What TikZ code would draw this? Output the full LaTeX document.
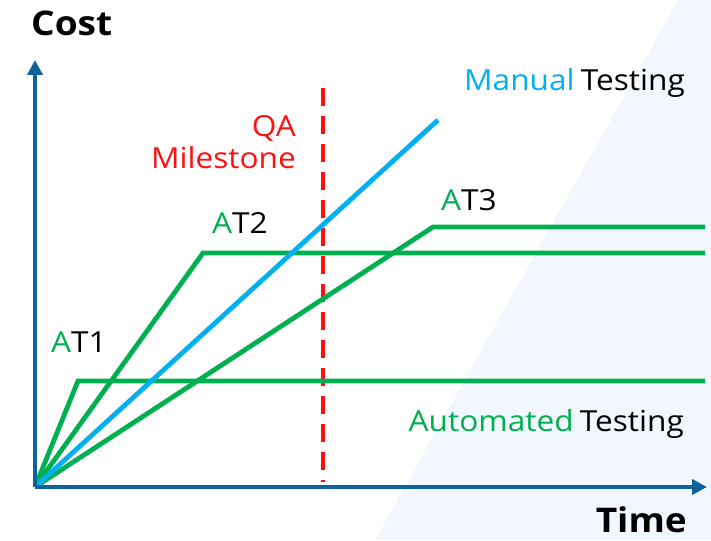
\documentclass[tikz,border=0pt]{standalone}
\usepackage{fontspec}
\setmainfont{Open Sans}[FakeStretch=1.09]
\usetikzlibrary{arrows.meta}
\definecolor{axisblue}{HTML}{0B6399}
\definecolor{mangreen}{HTML}{00B050}
\definecolor{manblue}{HTML}{00B0F0}
\definecolor{qared}{HTML}{FF1010}
\definecolor{bgblue}{HTML}{F2F7FD}
\begin{document}
\begin{tikzpicture}[x=1pt,y=-1pt,
  axis/.style={draw=axisblue,line width=4.5pt,-{Triangle[length=15pt,width=15pt]}},
  curve/.style={draw=mangreen,line width=4.8pt,line join=miter},
  lbl/.style={inner sep=0pt,font=\fontsize{29}{31}\selectfont},
  big/.style={inner sep=0pt,font=\fontsize{34}{36}\selectfont\bfseries}]
\useasboundingbox (0,0) rectangle (711,540);
\fill[bgblue] (678,0) -- (711,0) -- (711,540) -- (375,540) -- cycle;
\coordinate (O) at (35,487);
\coordinate (ytip) at (35,60);
\coordinate (xtip) at (707,487);
\coordinate (qtop) at (323,88);
\coordinate (qbot) at (323,482);
\coordinate (m1) at (438,120);
\coordinate (a1) at (78,381);
\coordinate (a1e) at (705,381);
\coordinate (a2) at (203,253);
\coordinate (a2e) at (705,253);
\coordinate (a3) at (433,227);
\coordinate (a3e) at (705,227);
\draw[qared,line width=4.8pt,dash pattern=on 18pt off 10pt] (qtop) -- (qbot);
\draw[curve] (O) -- (a1) -- (a1e);
\draw[curve] (O) -- (a2) -- (a2e);
\draw[curve] (O) -- (a3) -- (a3e);
\draw[manblue,line width=4.8pt] (O) -- (m1);
\draw[axis] (O) -- (ytip);
\draw[axis] (O) -- (xtip);
\node[big,anchor=base west] (cost) at (31,36) {Cost};
\node[big,anchor=base east] (time) at (687,532) {Time};
\node[lbl,anchor=base east] (manual) at (685,91) {\textcolor{manblue}{Manual}\hspace{-2pt} Testing};
\node[lbl,anchor=base east,text=qared] (qa) at (296,137) {QA};
\node[lbl,anchor=base east,text=qared] (mile) at (296,168) {Milestone};
\node[lbl,anchor=base west] (at1) at (51,352) {\textcolor{mangreen}{A}T1};
\node[lbl,anchor=base west] (at2) at (212,233) {\textcolor{mangreen}{A}T2};
\node[lbl,anchor=base west] (at3) at (441,210) {\textcolor{mangreen}{A}T3};
\node[lbl,anchor=base east] (auto) at (684,431) {\textcolor{mangreen}{Automated}\hspace{-2pt} Testing};
\end{tikzpicture}
\end{document}
